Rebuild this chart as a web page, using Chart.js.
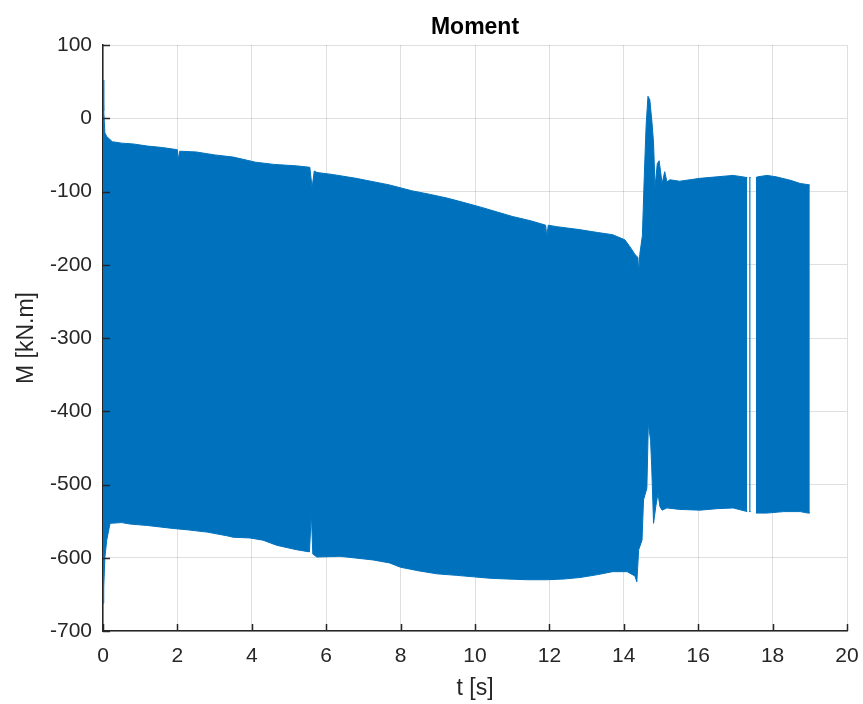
<!DOCTYPE html>
<html>
<head>
<meta charset="utf-8">
<script src="https://cdn.jsdelivr.net/npm/chart.js@4/dist/chart.umd.min.js"></script>
<style>
  html, body { margin: 0; padding: 0; background: #fff; }
  canvas { display: block; }
</style>
</head>
<body>
<canvas id="grafico" width="863" height="704"></canvas>
<script>
// upper envelope of the signal (t [s], M [kN.m]); null = gap in the record
const tSuperior = [0, 0.02, 0.05, 0.1, 0.25, 0.5, 0.8, 1.2, 1.6, 2.0, 2.02, 2.06, 2.5, 3.0, 3.5, 4.1, 4.6, 5.2, 5.56, 5.62, 5.68, 5.75,
  6.2, 6.8, 7.2, 7.7, 8.3, 8.8, 9.25, 9.7, 10.13, 10.6, 11.0, 11.5, 11.9, 11.93, 11.97, 12.2, 12.8, 13.3, 13.7, 14.03, 14.2, 14.3, 14.38,
  14.4, 14.43, 14.5, 14.55, 14.6, 14.65, 14.7, 14.76, 14.8, 14.84, 14.9, 14.95, 15.03, 15.1, 15.16, 15.24, 15.5, 16.05, 16.5, 16.94,
  17.32, 17.345, 17.37, 17.41, 17.48, 17.55, 17.6, 17.85, 18.1, 18.5, 18.74, 19.0];
const mSuperior = [52, 10, -20, -25, -32, -34, -35, -38, -40, -43, -57, -45, -46, -50, -53, -60, -63, -65, -67, -95, -72, -74,
  -77, -82, -86, -91, -99, -104, -109, -115, -121, -128, -134, -140, -146, -162, -146, -148, -152, -156, -159, -166, -178, -186, -190,
  -211, -186, -160, -80, -10, 30, 25, -7, -34, -94, -62, -58, -89, -73, -87, -84, -86, -82, -80, -78,
  -81, null, -81, -81, null, -81, -80, -78, -80, -85, -89, -91];

// lower envelope of the signal
const tInferior = [0, 0.02, 0.05, 0.1, 0.19, 0.5, 0.73, 1.2, 1.88, 2.3, 2.8, 3.33, 3.5, 3.95, 4.3, 4.67, 5.2, 5.55, 5.6, 5.64, 5.75,
  6.37, 7.26, 7.7, 8.0, 8.5, 8.98, 9.5, 9.95, 10.4, 10.86, 11.4, 11.94, 12.4, 12.82, 13.3, 13.7, 14.09, 14.3, 14.35, 14.4, 14.49,
  14.53, 14.62, 14.66, 14.72, 14.75, 14.8, 14.86, 14.92, 14.97, 15.03, 15.16, 15.5, 16.05, 16.5, 16.94,
  17.32, 17.345, 17.37, 17.41, 17.48, 17.55, 17.85, 18.3, 18.74, 18.95, 19.0];
const mInferior = [-662, -640, -600, -576, -553, -552, -554, -556, -560, -562, -565, -570, -572, -573, -576, -583, -589, -592, -539, -595, -599,
  -598, -603, -607, -613, -618, -622, -624, -626, -628, -629, -630, -630, -629, -627, -623, -619, -619, -625, -633, -589, -576,
  -521, -505, -416, -440, -476, -553, -530, -512, -530, -535, -532, -534, -535, -533, -532,
  -537, null, -537, -537, null, -539, -539, -537, -537, -539, -539];

const ticksT = [0, 2, 4, 6, 8, 10, 12, 14, 16, 18, 20];
const ticksM = [100, 0, -100, -200, -300, -400, -500, -600, -700];

const azul = "#0072BD";
const gris = "#262626";
const fuente = "Arial, 'Liberation Sans', Helvetica, sans-serif";

const puntos = (ts, ms) => ts.map((t, i) => ({ x: t, y: ms[i] }));

// MATLAB style ticks pointing into the axes
const marcasInternas = {
    id: "marcasInternas",
    afterDatasetsDraw(chart) {
        const { ctx, chartArea, scales } = chart;
        ctx.save();
        ctx.strokeStyle = gris;
        ctx.lineWidth = 1.5;
        ctx.beginPath();
        ticksT.forEach(v => {
            const x = Math.round(scales.x.getPixelForValue(v)) + 0.5;
            ctx.moveTo(x, chartArea.bottom);
            ctx.lineTo(x, chartArea.bottom - 7);
        });
        ticksM.forEach(v => {
            const y = Math.round(scales.y.getPixelForValue(v)) + 0.5;
            ctx.moveTo(chartArea.left, y);
            ctx.lineTo(chartArea.left + 7, y);
        });
        ctx.stroke();
        ctx.restore();
    }
};

new Chart(document.getElementById("grafico").getContext("2d"), {
    type: "line",
    data: {
        datasets: [{
            label: "superior",
            data: puntos(tSuperior, mSuperior),
            borderColor: azul,
            backgroundColor: azul,
            borderWidth: 1,
            pointRadius: 0,
            fill: false
        }, {
            label: "inferior",
            data: puntos(tInferior, mInferior),
            borderColor: azul,
            backgroundColor: azul,
            borderWidth: 1,
            pointRadius: 0,
            fill: "-1"
        }]
    },
    options: {
        responsive: false,
        animation: false,
        devicePixelRatio: 1,
        layout: { padding: { left: 0, right: 16, top: 0, bottom: 0 } },
        plugins: {
            legend: { display: false },
            tooltip: { enabled: false },
            title: {
                display: true,
                fullSize: false,
                text: "Moment",
                color: "#000",
                font: { family: fuente, size: 23, weight: "bold" },
                padding: { top: 14, bottom: 3.4 }
            }
        },
        scales: {
            x: {
                type: "linear",
                min: 0,
                max: 20,
                afterFit: s => { s.height = 73; s.paddingLeft = 0; s.paddingRight = 0; },
                afterBuildTicks: s => { s.ticks = ticksT.map(v => ({ value: v })); },
                grid: { color: "rgba(38,38,38,0.15)", drawTicks: false },
                border: { color: gris, width: 1.5 },
                ticks: { color: gris, font: { family: fuente, size: 21 }, padding: 13, maxRotation: 0 },
                title: {
                    display: true,
                    text: "t [s]",
                    color: gris,
                    font: { family: fuente, size: 23 },
                    padding: { top: 0, bottom: 2 }
                }
            },
            y: {
                type: "linear",
                min: -700,
                max: 100,
                afterFit: s => { s.width = 103; },
                afterBuildTicks: s => { s.ticks = ticksM.slice().reverse().map(v => ({ value: v })); },
                grid: { color: "rgba(38,38,38,0.15)", drawTicks: false },
                border: { color: gris, width: 1.5 },
                ticks: { color: gris, font: { family: fuente, size: 21 }, padding: 11 },
                title: {
                    display: true,
                    text: "M [kN.m]",
                    color: gris,
                    font: { family: fuente, size: 23 },
                    padding: { top: 13, bottom: 0 }
                }
            }
        }
    },
    plugins: [marcasInternas]
});
</script>
</body>
</html>
